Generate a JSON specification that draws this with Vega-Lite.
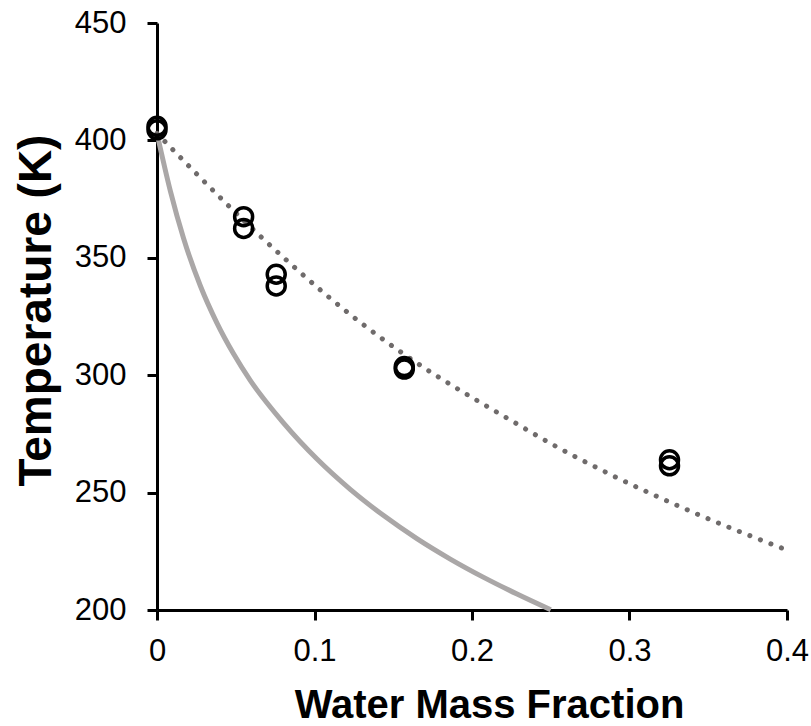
{
  "$schema": "https://vega.github.io/schema/vega-lite/v6.json",
  "autosize": {"type": "none"},
  "padding": {"left": 157, "top": 23, "right": 24, "bottom": 116},
  "width": 630,
  "height": 587,
  "background": "white",
  "config": {
    "view": {"stroke": null},
    "axis": {
      "domainColor": "black",
      "domainWidth": 3,
      "tickColor": "black",
      "tickWidth": 3,
      "tickSize": 10,
      "grid": false,
      "labelFlush": false,
      "labelFont": "Liberation Sans",
      "labelFontSize": 31,
      "labelColor": "black",
      "titleFont": "Liberation Sans",
      "titleFontWeight": "bold",
      "titleColor": "black"
    }
  },
  "datasets": {
    "model": [
      {"x": 0, "T": 403},
      {"x": 0.0085, "T": 378.4},
      {"x": 0.0169, "T": 358.2},
      {"x": 0.0275, "T": 338.1},
      {"x": 0.038, "T": 322.3},
      {"x": 0.0486, "T": 309.1},
      {"x": 0.0592, "T": 297.8},
      {"x": 0.0804, "T": 279.6},
      {"x": 0.1016, "T": 264.3},
      {"x": 0.1227, "T": 251.4},
      {"x": 0.1439, "T": 240.2},
      {"x": 0.165, "T": 230.4},
      {"x": 0.1862, "T": 221.7},
      {"x": 0.2074, "T": 213.9},
      {"x": 0.2286, "T": 206.8},
      {"x": 0.25, "T": 200.1}
    ],
    "fit": [
      {"x": 0, "T": 403},
      {"x": 0.0233, "T": 387},
      {"x": 0.0434, "T": 373.5},
      {"x": 0.0635, "T": 360.5},
      {"x": 0.0847, "T": 347.5},
      {"x": 0.1069, "T": 334.5},
      {"x": 0.1291, "T": 322.5},
      {"x": 0.1524, "T": 311},
      {"x": 0.1757, "T": 300.5},
      {"x": 0.2, "T": 290.5},
      {"x": 0.2254, "T": 280.5},
      {"x": 0.2497, "T": 271},
      {"x": 0.2825, "T": 259.5},
      {"x": 0.3407, "T": 241.5},
      {"x": 0.4, "T": 225.5}
    ],
    "obs": [
      {"x": 0, "T": 406},
      {"x": 0, "T": 404.5},
      {"x": 0.055, "T": 367.5},
      {"x": 0.055, "T": 362.5},
      {"x": 0.0757, "T": 343},
      {"x": 0.0757, "T": 338},
      {"x": 0.157, "T": 303.7},
      {"x": 0.157, "T": 302.6},
      {"x": 0.3254, "T": 264},
      {"x": 0.3254, "T": 261.4}
    ]
  },
  "encoding": {
    "x": {
      "field": "x",
      "type": "quantitative",
      "scale": {"domain": [0, 0.4], "nice": false, "zero": false},
      "axis": {
        "values": [0, 0.1, 0.2, 0.3, 0.4],
        "format": "~g",
        "labelPadding": 16,
        "title": "Water Mass Fraction",
        "titleFontSize": 40,
        "titleX": 332,
        "titleY": 107,
        "titleAnchor": null,
        "titleAlign": "center",
        "titleBaseline": "alphabetic"
      }
    },
    "y": {
      "field": "T",
      "type": "quantitative",
      "scale": {"domain": [200, 450], "nice": false, "zero": false},
      "axis": {
        "values": [200, 250, 300, 350, 400, 450],
        "labelPadding": 21,
        "title": "Temperature (K)",
        "titleFontSize": 46,
        "titleAngle": -90,
        "titleX": -107,
        "titleY": 287,
        "titleAlign": "center",
        "titleBaseline": "alphabetic"
      }
    }
  },
  "layer": [
    {
      "data": {"name": "model"},
      "mark": {"type": "line", "color": "#aaa7a7", "strokeWidth": 5, "interpolate": "monotone"}
    },
    {
      "data": {"name": "fit"},
      "mark": {"type": "line", "color": "#6f6b6b", "strokeWidth": 5, "strokeCap": "round", "strokeDash": [0.1, 11.2], "interpolate": "monotone"}
    },
    {
      "data": {"name": "obs"},
      "mark": {"type": "point", "shape": "circle", "filled": false, "size": 324, "stroke": "black", "strokeWidth": 3.5, "opacity": 1}
    }
  ]
}
